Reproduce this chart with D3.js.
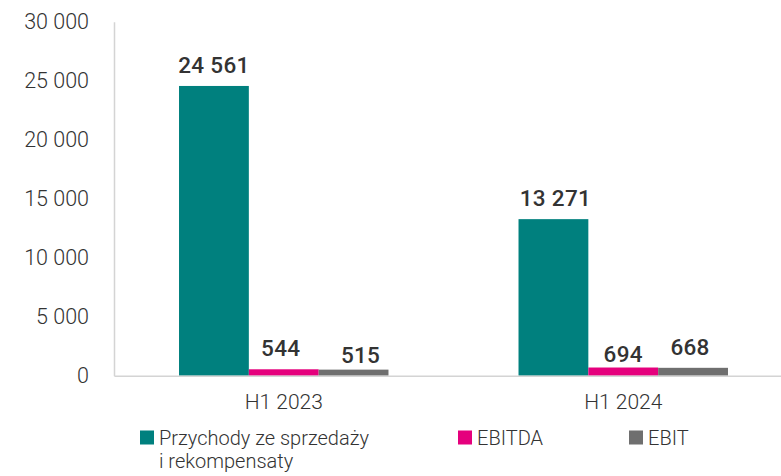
<!DOCTYPE html>
<html>
<head>
<meta charset="utf-8">
<script src="https://cdn.jsdelivr.net/npm/d3@7"></script>
<style>
  body { margin: 0; background: #fff; }
  text { font-family: Roboto, "Open Sans", sans-serif; }
</style>
</head>
<body>
<div id="chart"></div>
<script>
var categories = ['H1 2023', 'H1 2024'];
var seriesNames = ['Przychody ze sprzedaży i rekompensaty', 'EBITDA', 'EBIT'];
var przychody = [24561, 13271];
var ebitda = [544, 694];
var ebit = [515, 668];
var yTicks = [0, 5000, 10000, 15000, 20000, 25000, 30000];

var colors = ['#00807e', '#e5007d', '#6f6f6f'];

function drawChart(divId) {
    var width = 781, height = 476;

    var svg = d3.select(divId)
        .append('svg')
        .attr('width', width)
        .attr('height', height);

    var fmt = function(v) { return d3.format(',')(v).replace(/,/g, ' '); };

    var x0 = d3.scaleBand()
        .domain(categories)
        .range([114, 793])
        .paddingInner(0.383)
        .paddingOuter(0.1915);

    var x1 = d3.scaleBand()
        .domain(seriesNames)
        .range([0, x0.bandwidth()]);

    var y = d3.scaleLinear()
        .domain([0, 30000])
        .range([375.7, 21.8]);

    var series = [przychody, ebitda, ebit];
    var rows = [];
    categories.forEach(function(c, i) {
        seriesNames.forEach(function(s, j) {
            rows.push({ cat: c, name: s, value: series[j][i], k: j });
        });
    });

    // y axis: labels only plus a light vertical line
    var yAxis = d3.axisLeft(y)
        .tickValues(yTicks)
        .tickSize(0)
        .tickPadding(25)
        .tickFormat(fmt);

    var gy = svg.append('g')
        .attr('transform', 'translate(114,0)')
        .call(yAxis);
    gy.select('.domain').attr('stroke', '#d4d4d4').attr('stroke-width', 1.5);
    gy.selectAll('text')
        .attr('fill', '#333')
        .style('font-size', '21.5px')
        .style('font-weight', 300);

    // bars
    svg.append('g').selectAll('rect')
        .data(rows)
        .enter()
        .append('rect')
        .attr('x', function(d) { return x0(d.cat) + x1(d.name); })
        .attr('y', function(d) { return y(d.value); })
        .attr('width', x1.bandwidth())
        .attr('height', function(d) { return y(0) - y(d.value); })
        .attr('fill', function(d) { return colors[d.k]; });

    // baseline
    var xAxis = d3.axisBottom(x0).tickSize(0).tickPadding(15);
    var gx = svg.append('g')
        .attr('transform', 'translate(0,' + y(0) + ')')
        .call(xAxis);
    gx.select('.domain').attr('stroke', '#d4d4d4').attr('stroke-width', 1.5);
    gx.selectAll('text')
        .attr('fill', '#333')
        .attr('dy', '0.85em')
        .style('font-size', '21px')
        .style('font-weight', 300);

    // value labels (small nudges as in the original layout)
    var nudge = [[0, 0], [-3, 0], [7, -6], [2, 0], [0, -7], [-3, 0]];
    svg.append('g').selectAll('text')
        .data(rows)
        .enter()
        .append('text')
        .attr('x', function(d, i) { return x0(d.cat) + x1(d.name) + x1.bandwidth() / 2 + nudge[i][0]; })
        .attr('y', function(d, i) { return y(d.value) - 13 - nudge[i][1]; })
        .attr('text-anchor', 'middle')
        .attr('fill', '#333')
        .style('font-size', '22.5px')
        .style('font-weight', 500)
        .style('letter-spacing', '0.3px')
        .text(function(d) { return fmt(d.value); });

    // legend
    var legendX = [140, 458, 629];
    var legendLines = [['Przychody ze sprzedaży', 'i rekompensaty'], ['EBITDA'], ['EBIT']];
    var lg = svg.append('g').selectAll('g')
        .data(seriesNames)
        .enter()
        .append('g')
        .attr('transform', function(d, i) { return 'translate(' + legendX[i] + ',430.5)'; });

    lg.append('rect')
        .attr('width', 14)
        .attr('height', 14)
        .attr('fill', function(d, i) { return colors[i]; });

    lg.each(function(d, i) {
        var g = d3.select(this);
        legendLines[i].forEach(function(line, k) {
            g.append('text')
                .attr('x', 19)
                .attr('y', 14.5 + k * 23)
                .attr('fill', '#333')
                .style('font-size', '20px')
                .style('font-weight', 300)
                .text(line);
        });
    });
}

drawChart('#chart');
</script>
</body>
</html>
